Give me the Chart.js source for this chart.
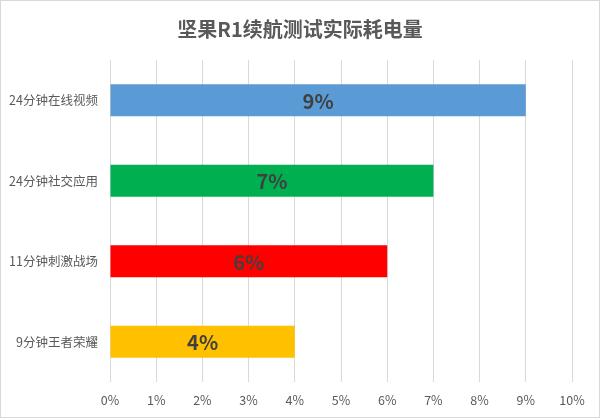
<!DOCTYPE html>
<html>
<head>
<meta charset="utf-8">
<script src="https://cdn.jsdelivr.net/npm/chart.js@4/dist/chart.umd.min.js"></script>
<style>
    html, body { margin: 0; padding: 0; background: #fff; }
    #wrap { width: 600px; height: 418px; }
</style>
</head>
<body>
<div id="wrap"><canvas id="chart" width="600" height="418"></canvas></div>
<script>
    // ── Data ─────────────────────────────────────────────────────────
    var categories = ['24分钟在线视频', '24分钟社交应用', '11分钟刺激战场', '9分钟王者荣耀'];
    var values     = [9, 7, 6, 4];
    var barColors  = ['#5B9BD5', '#00B050', '#FF0000', '#FFC000'];
    var xTicksMax  = 10;
    var titleText  = '坚果R1续航测试实际耗电量';

    var FONT = '"Noto Sans CJK SC", "Noto Sans", sans-serif';

    // white background, thin frame, and the title
    var framePlugin = {
        id: 'frame',
        beforeDraw: function (chart) {
            var c = chart.ctx;
            c.save();
            c.fillStyle = '#fff';
            c.fillRect(0, 0, chart.width, chart.height);
            c.strokeStyle = '#d9d9d9';
            c.lineWidth = 1;
            c.strokeRect(0.5, 0.5, chart.width - 1, chart.height - 1);
            c.font = 'bold 20px ' + FONT;
            c.fillStyle = '#595959';
            c.textAlign = 'center';
            c.textBaseline = 'middle';
            c.fillText(titleText, 300, 29);
            c.restore();
        }
    };

    // value labels in the middle of each bar
    var labelPlugin = {
        id: 'barLabels',
        afterDatasetsDraw: function (chart) {
            var c = chart.ctx;
            var meta = chart.getDatasetMeta(0);
            c.save();
            c.font = 'bold 20px ' + FONT;
            c.fillStyle = '#404040';
            c.textAlign = 'center';
            c.textBaseline = 'middle';
            meta.data.forEach(function (bar, i) {
                var cx = (bar.x + bar.base) / 2;
                c.fillText(values[i] + '%', cx, bar.y + 1);
            });
            c.restore();
        }
    };

    new Chart(document.getElementById('chart'), {
        type: 'bar',
        data: {
            labels: categories,
            datasets: [{
                data: values,
                backgroundColor: barColors,
                borderWidth: 0,
                barPercentage: 0.8,
                categoryPercentage: 0.5
            }]
        },
        plugins: [framePlugin, labelPlugin],
        options: {
            indexAxis: 'y',
            responsive: false,
            animation: false,
            layout: { padding: { left: 0, right: 28, top: 60, bottom: 0 } },
            plugins: {
                legend: { display: false },
                tooltip: { enabled: false },
                title: { display: false }
            },
            scales: {
                x: {
                    min: 0,
                    max: xTicksMax,
                    ticks: {
                        stepSize: 1,
                        color: '#595959',
                        padding: 11,
                        font: { family: FONT, size: 12.5 },
                        callback: function (v) { return v + '%'; }
                    },
                    grid: { color: '#d9d9d9', drawTicks: false },
                    border: { display: false },
                    afterFit: function (s) { s.height = 36; }
                },
                y: {
                    ticks: {
                        color: '#595959',
                        padding: 12,
                        font: { family: FONT, size: 12.5 }
                    },
                    grid: { display: false, drawTicks: false },
                    border: { display: false },
                    afterFit: function (s) { s.width = 110; }
                }
            }
        }
    });
</script>
</body>
</html>
